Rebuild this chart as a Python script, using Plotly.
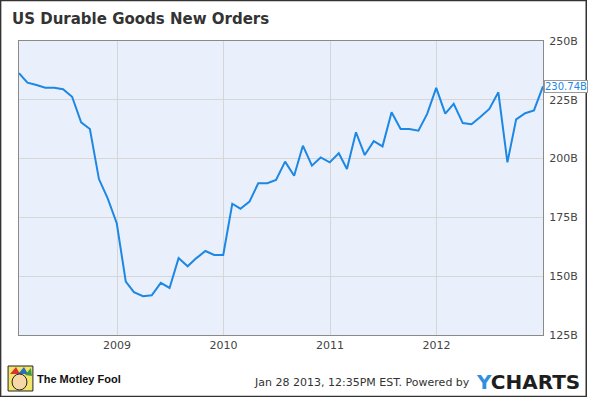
import pandas as pd
import plotly.graph_objects as go

# Monthly data, Jan 2008 - Dec 2012 (billions USD), month-end dates
dates = pd.date_range("2008-01-31", periods=60, freq=pd.offsets.MonthEnd())
orders_2008 = [236.3, 232.3, 231.3, 230.1, 230.1, 229.5, 226.3, 215.4, 212.6, 191.3, 183.1, 172.5]
orders_2009 = [147.7, 143.2, 141.5, 141.9, 147.2, 145.0, 157.7, 154.2, 157.7, 160.7, 159.0, 159.0]
orders_2010 = [180.8, 178.7, 181.7, 189.5, 189.5, 190.9, 198.7, 192.7, 205.5, 197.0, 200.5, 198.4]
orders_2011 = [202.3, 195.6, 211.2, 201.5, 207.4, 205.2, 219.7, 212.6, 212.6, 211.9, 219.0, 230.1]
orders_2012 = [219.1, 223.3, 215.1, 214.6, 217.8, 221.1, 228.2, 198.4, 216.7, 219.3, 220.5, 230.74]
orders = orders_2008 + orders_2009 + orders_2010 + orders_2011 + orders_2012

x_tick_vals = ["2009-01-01", "2010-01-01", "2011-01-01", "2012-01-01"]
x_tick_text = ["2009", "2010", "2011", "2012"]
y_tick_vals = [125, 150, 175, 200, 225, 250]
y_tick_text = ["125B", "150B", "175B", "200B", "225B", "250B"]
last_label = "230.74B"

W, H = 590, 397
L, R, T, B = 19, 44, 41, 62
pw, ph = W - L - R, H - T - B


def px(xp):
    return (xp - L) / pw


def py(yp):
    return (H - B - yp) / ph


fig = go.Figure()
fig.add_trace(go.Scatter(
    x=dates, y=orders, mode="lines",
    line=dict(color="#1C87E4", width=2),
    hoverinfo="skip", showlegend=False,
))

fig.update_layout(
    width=W, height=H,
    margin=dict(l=L, r=R, t=T, b=B, pad=0),
    paper_bgcolor="white",
    plot_bgcolor="#EAF0FB",
    font=dict(family="DejaVu Sans", size=11, color="#444444"),
    showlegend=False,
    xaxis=dict(
        range=["2008-01-31", "2012-12-31"],
        tickmode="array", tickvals=x_tick_vals, ticktext=x_tick_text,
        showgrid=True, gridcolor="#D6D6D6", gridwidth=1,
        showline=True, linecolor="#8A8A8A", linewidth=1, mirror=True,
        ticks="", zeroline=False,
        tickfont=dict(size=11, color="#444444"),
    ),
    yaxis=dict(
        range=[125, 250], side="right",
        tickmode="array", tickvals=y_tick_vals, ticktext=y_tick_text,
        showgrid=True, gridcolor="#D6D6D6", gridwidth=1,
        showline=True, linecolor="#8A8A8A", linewidth=1, mirror=True,
        ticks="", zeroline=False, ticklabelstandoff=3,
        tickfont=dict(size=11, color="#444444"),
    ),
)

shapes = [
    # outer frame
    dict(type="rect", xref="paper", yref="paper",
         x0=px(0.5), x1=px(589.5), y0=py(396.5), y1=py(0.5),
         line=dict(color="#333333", width=1.5), fillcolor="rgba(0,0,0,0)", layer="above"),
    # Motley Fool icon (simplified)
    dict(type="rect", xref="paper", yref="paper",
         x0=px(8), x1=px(33), y0=py(391), y1=py(366),
         line=dict(color="#222222", width=1), fillcolor="#F3E46A"),
    dict(type="path", xref="paper", yref="paper",
         path=f"M {px(10)},{py(374)} L {px(16)},{py(367)} L {px(20)},{py(374)} Z",
         line=dict(width=0), fillcolor="#D9342B"),
    dict(type="path", xref="paper", yref="paper",
         path=f"M {px(18)},{py(374)} L {px(24)},{py(367)} L {px(28)},{py(374)} Z",
         line=dict(width=0), fillcolor="#2E6DB8"),
    dict(type="path", xref="paper", yref="paper",
         path=f"M {px(25)},{py(375)} L {px(31)},{py(368)} L {px(32)},{py(376)} Z",
         line=dict(width=0), fillcolor="#3A9A45"),
    dict(type="circle", xref="paper", yref="paper",
         x0=px(12), x1=px(27), y0=py(390), y1=py(374),
         line=dict(color="#222222", width=1), fillcolor="#F6D7A8"),
]
fig.update_layout(shapes=shapes)

annotations = [
    dict(text="<b>US Durable Goods New Orders</b>", xref="paper", yref="paper",
         x=px(10), y=py(19.5), xanchor="left", yanchor="middle", showarrow=False,
         font=dict(family="DejaVu Sans", size=15, color="#333333")),
    dict(text=last_label, xref="paper", yref="y", x=1, y=orders[-1],
         xanchor="left", yanchor="middle", xshift=1, showarrow=False,
         font=dict(family="DejaVu Sans", size=10, color="#1C87E4"),
         bgcolor="white", bordercolor="#9A9A9A", borderwidth=1, borderpad=0),
    dict(text="<b>The Motley Fool</b>", xref="paper", yref="paper",
         x=px(35), y=py(379), xanchor="left", yanchor="middle", showarrow=False,
         font=dict(family="Liberation Sans", size=11, color="#111111")),
    dict(text="Jan 28 2013, 12:35PM EST. Powered by", xref="paper", yref="paper",
         x=px(475), y=py(382), xanchor="right", yanchor="middle", showarrow=False,
         font=dict(family="DejaVu Sans", size=11, color="#333333")),
    dict(text="<b><span style='color:#2F8FE0'>Y</span>CHARTS</b>", xref="paper", yref="paper",
         x=px(477), y=py(382), xanchor="left", yanchor="middle", showarrow=False,
         font=dict(family="DejaVu Sans", size=20, color="#1E1E1E")),
]
fig.update_layout(annotations=annotations)

fig.write_html("out.html", config={"displayModeBar": False},
               post_script="document.body.style.margin='0';document.body.style.overflow='hidden';")
